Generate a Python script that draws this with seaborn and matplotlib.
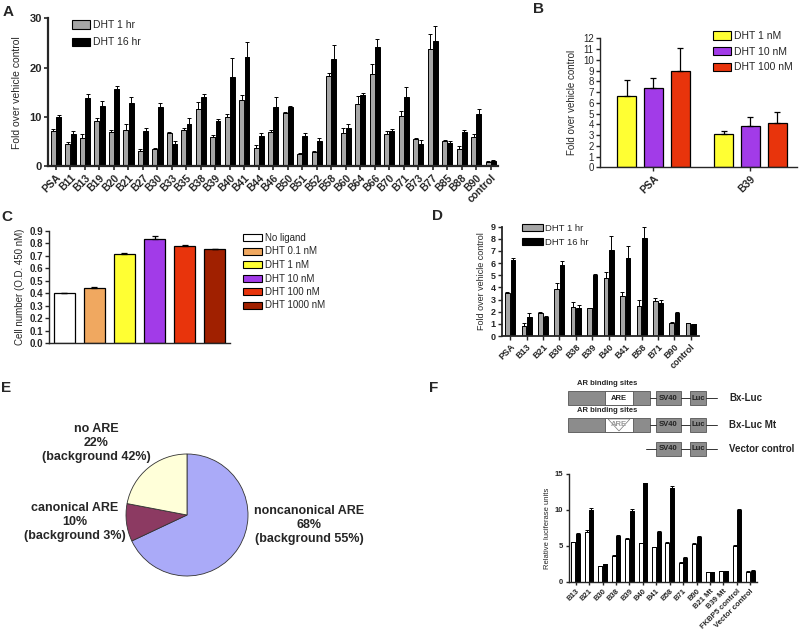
import numpy as np
import pandas as pd
import matplotlib
matplotlib.use('Agg')
import matplotlib.pyplot as plt
import seaborn as sns
from matplotlib.patches import Rectangle, Patch, Polygon

sns.set_theme(style='ticks')
plt.rcParams['font.family'] = ['Liberation Sans', 'DejaVu Sans']
plt.rcParams['axes.linewidth'] = 1.0
plt.rcParams['xtick.major.width'] = 1.0
plt.rcParams['ytick.major.width'] = 1.0

# ---------------- data ----------------
a_cats = ['PSA', 'B11', 'B13', 'B19', 'B20', 'B21', 'B27', 'B30', 'B33', 'B35', 'B38', 'B39', 'B40',
          'B41', 'B44', 'B46', 'B50', 'B51', 'B52', 'B58', 'B60', 'B64', 'B66', 'B70', 'B71', 'B73',
          'B77', 'B85', 'B88', 'B90', 'control']
a_1hr = [7.1, 4.5, 5.7, 9.2, 6.9, 7.4, 3.1, 3.6, 6.8, 7.4, 11.7, 5.9, 10.0, 13.5, 3.8, 7.0, 10.8, 2.4,
         3.0, 18.3, 6.7, 12.6, 18.7, 6.6, 10.2, 5.5, 23.8, 5.1, 3.6, 6.0, 0.9]
a_1hr_err = [0.5, 0.5, 0.9, 0.5, 0.4, 1.1, 0.4, 0.2, 0.1, 0.4, 1.4, 0.4, 0.7, 1.0, 0.5, 0.3, 0.2, 0.2,
             0.2, 0.7, 1.0, 1.7, 2.0, 0.5, 1.0, 0.2, 3.0, 0.2, 0.5, 0.5, 0.1]
a_16hr = [9.9, 6.6, 13.9, 12.3, 15.7, 12.9, 7.2, 12.0, 4.5, 8.6, 14.1, 9.1, 18.2, 22.2, 6.2, 12.0, 12.1,
          6.2, 5.1, 21.7, 7.8, 14.5, 24.2, 7.1, 14.1, 4.6, 25.5, 4.8, 6.9, 10.7, 1.1]
a_16hr_err = [0.5, 0.6, 0.8, 0.9, 0.6, 1.2, 0.5, 0.9, 0.7, 1.1, 0.6, 0.5, 3.8, 3.0, 0.5, 2.0, 0.2, 0.5,
              0.7, 2.9, 0.7, 0.3, 1.7, 0.4, 1.9, 0.8, 2.9, 0.4, 0.4, 1.0, 0.2]

b_cats = ['PSA', 'B39']
b_1nM = [6.6, 3.1]
b_1nM_err = [1.5, 0.3]
b_10nM = [7.4, 3.8]
b_10nM_err = [0.9, 0.85]
b_100nM = [9.0, 4.1]
b_100nM_err = [2.1, 1.0]

c_labels = ['No ligand', 'DHT 0.1 nM', 'DHT 1 nM', 'DHT 10 nM', 'DHT 100 nM', 'DHT 1000 nM']
c_vals = [0.40, 0.445, 0.71, 0.835, 0.775, 0.752]
c_err = [0.005, 0.005, 0.008, 0.025, 0.01, 0.005]

d_cats = ['PSA', 'B13', 'B21', 'B30', 'B38', 'B39', 'B40', 'B41', 'B58', 'B71', 'B90', 'control']
d_1hr = [3.5, 0.85, 1.9, 3.85, 2.4, 2.3, 4.75, 3.3, 2.5, 2.9, 1.07, 1.04]
d_1hr_err = [0.15, 0.2, 0.1, 0.5, 0.4, 0.02, 0.5, 0.3, 0.5, 0.25, 0.05, 0.03]
d_16hr = [6.25, 1.57, 1.6, 5.88, 2.34, 5.0, 7.1, 6.4, 8.1, 2.7, 1.9, 0.96]
d_16hr_err = [0.15, 0.35, 0.03, 0.3, 0.2, 0.08, 1.1, 1.05, 0.85, 0.25, 0.1, 0.03]

e_labels = ['noncanonical ARE\n68%\n(background 55%)', 'canonical ARE\n10%\n(background 3%)',
            'no ARE\n22%\n(background 42%)']
e_pct = [68, 10, 22]

f_cats = ['B13', 'B21', 'B30', 'B38', 'B39', 'B40', 'B41', 'B58', 'B71', 'B90', 'B21 Mt', 'B39 Mt',
          'FKBP5 control', 'Vector control']
f_white = [5.5, 6.9, 2.2, 3.6, 6.0, 5.4, 4.8, 5.4, 2.7, 5.3, 1.4, 1.5, 5.05, 1.45]
f_white_err = [0.1, 0.3, 0.05, 0.1, 0.1, 0.05, 0.1, 0.1, 0.05, 0.15, 0.05, 0.05, 0.1, 0.05]
f_black = [6.6, 10.0, 2.5, 6.4, 9.8, 13.7, 7.0, 13.05, 3.4, 6.2, 1.4, 1.5, 10.05, 1.55]
f_black_err = [0.15, 0.3, 0.05, 0.1, 0.4, 0.1, 0.1, 0.3, 0.05, 0.15, 0.05, 0.05, 0.1, 0.05]

# ---------------- helpers ----------------
W, H = 800, 633
fig = plt.figure(figsize=(8, 6.33), dpi=100)


def add_ax(l, t, r, b):
    return fig.add_axes([l / W, 1 - b / H, (r - l) / W, (b - t) / H])


def fig_xy(x, y):
    return x / W, 1 - y / H


def bars(ax, cats, series, colors, errs, width, gap, lw=0.8, cap=1.5):
    rows = []
    for name, vals in series.items():
        for c, v in zip(cats, vals):
            rows.append((c, name, v))
    df = pd.DataFrame(rows, columns=['cat', 'series', 'val'])
    sns.barplot(data=df, x='cat', y='val', hue='series', order=cats, hue_order=list(series),
                palette=colors, width=width, gap=gap, edgecolor='black', linewidth=lw,
                errorbar=None, legend=False, ax=ax, saturation=1)
    for cont, name in zip(ax.containers, series):
        xs = [p.get_x() + p.get_width() / 2 for p in cont]
        hs = [p.get_height() for p in cont]
        e = np.asarray(errs[name])
        ax.errorbar(xs, hs, yerr=[np.zeros(len(e)), e], fmt='none', ecolor='black',
                    elinewidth=lw, capsize=cap, capthick=lw, zorder=1)
    ax.set_xlabel('')
    sns.despine(ax=ax)


def legend(ax, labels, colors, x, y, fs, spacing, hl=1.75, hh=0.85):
    handles = [Patch(facecolor=c, edgecolor='black', linewidth=0.8) for c in colors]
    ax.legend(handles, labels, loc='upper left', bbox_to_anchor=fig_xy(x, y),
              bbox_transform=fig.transFigure, frameon=False, fontsize=fs, borderpad=0,
              borderaxespad=0, handlelength=hl, handleheight=hh, handletextpad=0.25,
              labelspacing=spacing)


GRAY = '#a6a6a6'
YEL = '#ffff33'
PUR = '#a23be8'
RED = '#e8340c'

# ---------------- panel A ----------------
axA = add_ax(48, 18.3, 498, 166.3)
bars(axA, a_cats, {'DHT 1 hr': a_1hr, 'DHT 16 hr': a_16hr}, [GRAY, 'black'],
     {'DHT 1 hr': a_1hr_err, 'DHT 16 hr': a_16hr_err}, width=0.72, gap=0.05, lw=0.7, cap=1.3)
axA.set_ylim(0, 30)
axA.set_xlim(-0.55, 30.5)
axA.set_yticks([0, 10, 20, 30])
axA.spines[['left', 'bottom']].set_linewidth(1.6)
axA.tick_params(axis='both', length=3, width=1.2, pad=1.5)
axA.tick_params(axis='y', labelsize=8)
axA.tick_params(axis='x', labelsize=7.5)
for t in axA.get_yticklabels():
    t.set_fontweight('bold')
axA.set_xticks(range(len(a_cats)))
axA.set_xticklabels(a_cats, rotation=45, ha='right', rotation_mode='anchor', fontweight='bold')
axA.set_ylabel('Fold over vehicle control', fontsize=7.5, labelpad=5)
legend(axA, ['DHT 1 hr', 'DHT 16 hr'], [GRAY, 'black'], 72, 20, 7.5, 0.7)

# ---------------- panel B ----------------
axB = add_ax(600, 38.3, 797, 167.3)
bars(axB, b_cats, {'DHT 1 nM': b_1nM, 'DHT 10 nM': b_10nM, 'DHT 100 nM': b_100nM},
     [YEL, PUR, RED], {'DHT 1 nM': b_1nM_err, 'DHT 10 nM': b_10nM_err, 'DHT 100 nM': b_100nM_err},
     width=0.83, gap=0.3, lw=0.9, cap=2.5)
axB.set_ylim(0, 12)
axB.set_xlim(-0.55, 1.48)
axB.set_yticks(range(0, 13))
axB.tick_params(axis='both', length=3, pad=1.5, labelsize=7)
axB.tick_params(axis='x', labelsize=7.5)
axB.set_xticks([0, 1])
axB.set_xticklabels(b_cats, rotation=45, ha='right', rotation_mode='anchor', fontweight='bold')
axB.set_ylabel('Fold over vehicle control', fontsize=7, labelpad=4)
legend(axB, ['DHT 1 nM', 'DHT 10 nM', 'DHT 100 nM'], [YEL, PUR, RED], 713, 31, 7.5, 0.55)

# ---------------- panel C ----------------
axC = add_ax(49, 230.7, 230, 343.3)
C_COLORS = ['#ffffff', '#f0a860', YEL, PUR, RED, '#a02000']
dfc = pd.DataFrame({'cond': c_labels, 'val': c_vals})
sns.barplot(data=dfc, x='cond', y='val', hue='cond', order=c_labels, hue_order=c_labels,
            palette=C_COLORS, width=0.7, edgecolor='black', linewidth=0.9, errorbar=None,
            legend=False, ax=axC, saturation=1)
cx = [p.get_x() + p.get_width() / 2 for p in axC.patches if p.get_height() > 0]
ch = [p.get_height() for p in axC.patches if p.get_height() > 0]
axC.errorbar(cx, ch, yerr=[np.zeros(len(c_err)), c_err], fmt='none', ecolor='black',
             elinewidth=0.9, capsize=2.5, capthick=0.9)
sns.despine(ax=axC)
axC.set_ylim(0, 0.9)
axC.set_xlim(-0.5, 5.5)
axC.set_yticks(np.arange(0, 0.91, 0.1))
axC.set_yticklabels([f'{v:.1f}' for v in np.arange(0, 0.91, 0.1)])
axC.set_xticks([])
axC.set_xlabel('')
axC.tick_params(axis='y', length=3, pad=1.5, labelsize=7)
for t in axC.get_yticklabels():
    t.set_fontweight('bold')
axC.set_ylabel('Cell number (O.D. 450 nM)', fontsize=7, labelpad=3)
legend(axC, c_labels, C_COLORS, 243, 233, 7, 0.36, hl=2.0, hh=0.75)

# ---------------- panel D ----------------
axD = add_ax(502, 226.7, 699, 336)
bars(axD, d_cats, {'DHT 1 hr': d_1hr, 'DHT 16 hr': d_16hr}, [GRAY, 'black'],
     {'DHT 1 hr': d_1hr_err, 'DHT 16 hr': d_16hr_err}, width=0.66, gap=0.15, lw=0.7, cap=1.3)
axD.set_ylim(0, 9)
axD.set_xlim(-0.5, 11.5)
axD.set_yticks(range(0, 10))
axD.spines[['left', 'bottom']].set_linewidth(1.3)
axD.tick_params(axis='both', length=3, pad=1.5, labelsize=6.5)
for t in axD.get_yticklabels():
    t.set_fontweight('bold')
axD.set_xticks(range(len(d_cats)))
axD.set_xticklabels(d_cats, rotation=45, ha='right', rotation_mode='anchor', fontweight='bold')
axD.set_ylabel('Fold over vehicle control', fontsize=6.5, labelpad=3)
legend(axD, ['DHT 1 hr', 'DHT 16 hr'], [GRAY, 'black'], 522, 224, 6.8, 0.5, hl=2.2, hh=0.8)

# ---------------- panel E ----------------
axE = add_ax(126, 454, 248, 576)
axE.pie(e_pct, colors=['#aaaaf8', '#8c3a62', '#ffffd9'], startangle=90, counterclock=False,
        radius=1, wedgeprops=dict(edgecolor='#333333', linewidth=0.6))
axE.set_xlim(-1, 1)
axE.set_ylim(-1, 1)
e_pos = [(2.0, -0.16), (-1.84, -0.11), (-1.49, 1.18)]
for lab, (tx, ty) in zip(e_labels, e_pos):
    axE.text(tx, ty, lab, ha='center', va='center', fontsize=9, fontweight='bold',
             linespacing=1.2, clip_on=False)

# ---------------- panel F diagram ----------------
axFd = add_ax(560, 375, 800, 460)
axFd.set_xlim(560, 800)
axFd.set_ylim(460, 375)
axFd.axis('off')
BOXG = '#8c8c8c'


def box(x0, x1, yc, h=14, fc=BOXG, text=None, fs=5.5):
    axFd.add_patch(Rectangle((x0, yc - h / 2), x1 - x0, h, facecolor=fc, edgecolor='#555555',
                             linewidth=0.6))
    if text:
        axFd.text((x0 + x1) / 2, yc, text, ha='center', va='center', fontsize=fs,
                  fontweight='bold', color='#222222')


for row, (yc, lab) in enumerate([(398, 'Bx-Luc'), (425, 'Bx-Luc Mt'), (449, 'Vector control')]):
    if row < 2:
        box(568, 650, yc)
        box(605, 633, yc, fc='white', text='ARE' if row == 0 else None)
        if row == 1:
            axFd.add_patch(Polygon([(608, yc - 6), (630, yc - 6), (619, yc + 6)], closed=True,
                                   facecolor='white', edgecolor='#777777', linewidth=0.5))
            axFd.text(619, yc, 'ARE', ha='center', va='center', fontsize=5.5,
                      fontweight='bold', color='#999999')
        axFd.text(607, yc - 11, 'AR binding sites', ha='center', va='bottom', fontsize=5.5,
                  fontweight='bold')
        axFd.plot([650, 656], [yc, yc], color='#333333', lw=0.7)
    else:
        axFd.plot([646, 656], [yc, yc], color='#333333', lw=0.7)
    box(656, 681, yc, text='SV40')
    axFd.plot([681, 690], [yc, yc], color='#333333', lw=0.7)
    box(690, 706, yc, text='Luc')
    axFd.plot([706, 717], [yc, yc], color='#333333', lw=0.7)
    axFd.text(729, yc, lab, ha='left', va='center', fontsize=7, fontweight='bold')

# ---------------- panel F bars ----------------
axF = add_ax(569, 474, 757, 582)
bars(axF, f_cats, {'w': f_white, 'b': f_black}, ['white', 'black'],
     {'w': f_white_err, 'b': f_black_err}, width=0.7, gap=0.15, lw=0.7, cap=1.2)
axF.set_ylim(0, 15)
axF.set_xlim(-0.5, 13.5)
axF.set_yticks([0, 5, 10, 15])
axF.tick_params(axis='both', length=2.5, pad=1.5, labelsize=5.5)
axF.set_xticks(range(len(f_cats)))
axF.set_xticklabels(f_cats, rotation=45, ha='right', rotation_mode='anchor', fontweight='bold')
for t in axF.get_yticklabels():
    t.set_fontweight('bold')
axF.set_ylabel('Relative luciferase units', fontsize=5.5, labelpad=3)

# ---------------- panel letters ----------------
for letter, (x, y) in {'A': (3, 12), 'B': (533, 9), 'C': (1, 217), 'D': (432, 216),
                       'E': (1, 388), 'F': (429, 388)}.items():
    fig.text(*fig_xy(x, y), letter, fontsize=11, fontweight='bold', ha='left', va='center')

fig.savefig('out.png', dpi=100, facecolor='white')
